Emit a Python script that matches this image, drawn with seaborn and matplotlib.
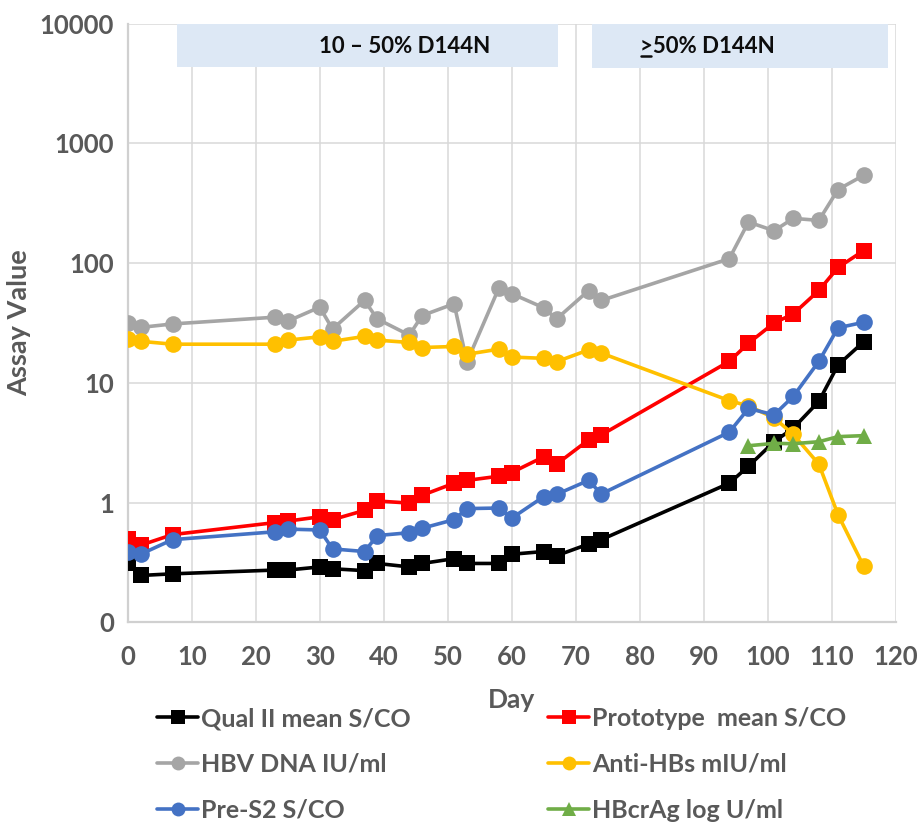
import matplotlib
matplotlib.use("Agg")
import matplotlib.pyplot as plt
from matplotlib.patches import Rectangle
from matplotlib.lines import Line2D
import seaborn as sns
import pandas as pd

# Sampling days and assay readings per series
days = [0, 2, 7, 23, 25, 30, 32, 37, 39, 44, 46, 51, 53, 58, 60, 65, 67, 72, 74,
        94, 97, 101, 104, 108, 111, 115]
qual_ii = [0.31, 0.246, 0.254, 0.273, 0.273, 0.29, 0.28, 0.27, 0.31, 0.29, 0.31, 0.34,
           0.31, 0.31, 0.37, 0.39, 0.36, 0.45, 0.49, 1.45, 2.01, 3.22, 4.18, 7.0, 14.1, 22]
prototype = [0.50, 0.44, 0.54, 0.68, 0.70, 0.76, 0.72, 0.86, 1.03, 0.99, 1.15, 1.45,
             1.53, 1.66, 1.78, 2.41, 2.09, 3.33, 3.67, 15.1, 21.4, 31.6, 37.6, 59, 91.8, 127]
hbv_dna = [31.4, 29, 31, 35.3, 32.7, 42.8, 28.1, 48.7, 34.1, 25, 36.4, 45.7, 14.9, 62,
           55.5, 42.3, 34.1, 58.8, 48.7, 108.7, 220, 186, 236, 227, 411, 540]
anti_hbs = [23, 22.2, 21, 21, 22.7, 24.2, 22.2, 24.4, 22.7, 21.7, 19.7, 20.1, 17.3, 19.1,
            16.4, 16, 15, 18.8, 17.7, 7.1, 6.4, 5.1, 3.7, 2.09, 0.79, 0.294]
pre_s2 = [0.39, 0.37, 0.49, 0.57, 0.60, 0.59, 0.41, 0.39, 0.53, 0.56, 0.61, 0.72, 0.89,
          0.90, 0.74, 1.12, 1.17, 1.53, 1.18, 3.87, 6.1, 5.4, 7.7, 15.1, 28.8, 32]
hbcrag_days = [97, 101, 104, 108, 111, 115]
hbcrag = [2.98, 3.12, 3.1, 3.22, 3.55, 3.62]

series_names = ["Qual II mean S/CO", "Prototype  mean S/CO", "HBV DNA IU/ml",
                "Anti-HBs mIU/ml", "Pre-S2 S/CO", "HBcrAg log U/ml"]
colors = ["#000000", "#ff0000", "#a5a5a5", "#ffc000", "#4472c4", "#70ad47"]
marker_shapes = ["s", "s", "o", "o", "o", "^"]

y_ticks = [0.1, 1, 10, 100, 1000, 10000]
y_tick_labels = ["0", "1", "10", "100", "1000", "10000"]
x_ticks = list(range(0, 121, 10))

frames = []
for name, xs, ys in zip(series_names,
                        [days, days, days, days, days, hbcrag_days],
                        [qual_ii, prototype, hbv_dna, anti_hbs, pre_s2, hbcrag]):
    frames.append(pd.DataFrame({"Day": xs, "Value": ys, "Series": name}))
df = pd.concat(frames, ignore_index=True)

sns.set_style("white")
FONT = "Lato"
plt.rcParams["font.family"] = [FONT, "DejaVu Sans"]

TXT = "#595959"
fig = plt.figure(figsize=(9.21, 8.25), dpi=100)
ax = fig.add_axes([0.1387, 0.2457, 0.9725 - 0.1387, 0.9715 - 0.2457])

ax.set_yscale("log")
ax.set_xlim(0, 120)
ax.set_ylim(0.1, 10000)

# Shaded phase boxes behind the data
box_col = "#dde8f5"
ax.add_patch(Rectangle((7.7, 4300), 67.2 - 7.7, 9850 - 4300, facecolor=box_col,
                       edgecolor="none", zorder=1.5))
ax.add_patch(Rectangle((72.6, 4250), 118.8 - 72.6, 9850 - 4250, facecolor=box_col,
                       edgecolor="none", zorder=1.5))
box_font = dict(fontsize=16, fontweight="bold", color="#0d0d0d", zorder=3)
ax.text(43.2, 6400, "10 \u2013 50% D144N", ha="center", va="center", **box_font)
phase2 = ax.text(90.5, 6400, ">50% D144N", ha="center", va="center", **box_font)

sns.lineplot(data=df, x="Day", y="Value", hue="Series", style="Series",
             hue_order=series_names, style_order=series_names,
             palette=dict(zip(series_names, colors)),
             markers=dict(zip(series_names, marker_shapes)),
             dashes=False, estimator=None, sort=False, legend=False,
             linewidth=2.6, markersize=12, markeredgewidth=0, ax=ax, zorder=4)

ax.set_yticks(y_ticks)
ax.set_yticklabels(y_tick_labels)
ax.yaxis.set_minor_locator(matplotlib.ticker.NullLocator())
ax.set_xticks(x_ticks)
ax.tick_params(axis="both", length=0, labelsize=18.5, labelcolor=TXT)
for lab in ax.get_xticklabels() + ax.get_yticklabels():
    lab.set_fontweight("bold")
ax.tick_params(axis="y", pad=10)
ax.tick_params(axis="x", pad=16)

ax.grid(True, which="major", color="#d9d9d9", linewidth=1.1, zorder=0)
ax.set_axisbelow(True)
for side in ["top", "right"]:
    ax.spines[side].set_visible(False)
for side in ["left", "bottom"]:
    ax.spines[side].set_color("#d0d0d0")
    ax.spines[side].set_linewidth(1.6)

ax.set_xlabel("Day", fontsize=19, fontweight="bold", color=TXT, labelpad=14)
ax.set_ylabel("Assay Value", fontsize=19.5, fontweight="bold", color=TXT, labelpad=6)

handles = [Line2D([], [], color=c, marker=m, markersize=10, markeredgewidth=0, linewidth=2.6)
           for c, m in zip(colors, marker_shapes)]
leg_kw = dict(frameon=False, fontsize=18, handlelength=1.65, handletextpad=0.12,
              labelspacing=0.92, loc="upper left", borderaxespad=0, borderpad=0)
leg1 = fig.legend([handles[0], handles[2], handles[4]],
                  [series_names[0], series_names[2], series_names[4]],
                  bbox_to_anchor=(157 / 921, 1 - 707 / 825), **leg_kw)
leg2 = fig.legend([handles[1], handles[3], handles[5]],
                  [series_names[1], series_names[3], series_names[5]],
                  bbox_to_anchor=(548 / 921, 1 - 707 / 825), **leg_kw)
for leg in (leg1, leg2):
    for t in leg.get_texts():
        t.set_color(TXT)
        t.set_fontweight("bold")

# Underline the ">" so it reads as "greater than or equal"
fig.canvas.draw()
renderer = fig.canvas.get_renderer()
bb = phase2.get_window_extent(renderer)
probe = fig.text(0, 0, ">", fontsize=16, fontweight="bold")
gt_w = probe.get_window_extent(renderer).width
probe.remove()
inv = fig.transFigure.inverted()
(x0, y0), (x1, _) = inv.transform([(bb.x0 + 1, bb.y0 + 1), (bb.x0 + gt_w - 1, bb.y0 + 1)])
fig.add_artist(Line2D([x0, x1], [y0, y0], color="#0d0d0d", linewidth=1.8))

fig.savefig("out.png", dpi=100)
